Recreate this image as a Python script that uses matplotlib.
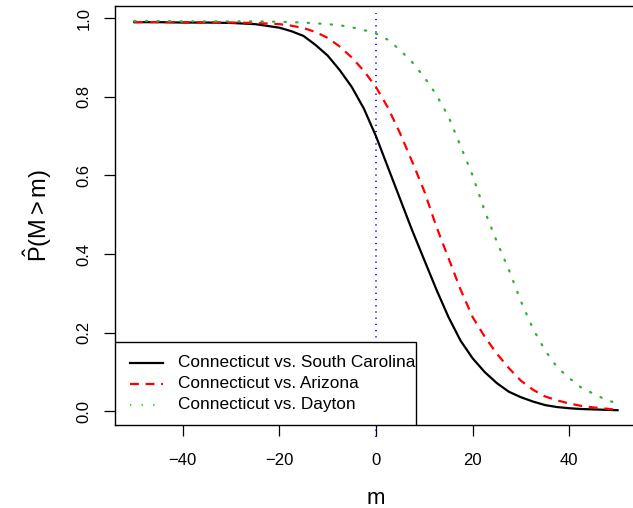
import matplotlib
matplotlib.use("Agg")
import matplotlib.pyplot as plt
from matplotlib.patches import Rectangle

plt.rcParams['font.family'] = ['Liberation Sans', 'DejaVu Sans']
plt.rcParams['mathtext.fontset'] = 'custom'
plt.rcParams['mathtext.rm'] = 'Liberation Sans'
plt.rcParams['mathtext.it'] = 'Liberation Sans'

# margin m and estimated P(M > m) for each matchup
m_vals = [-50, -45, -40, -35, -30, -25, -20, -17.5, -15, -12.5, -10, -7.5, -5, -2.5, 0,
          2.5, 5, 7.5, 10, 12.5, 15, 17.5, 20, 22.5, 25, 27.5, 30, 32.5, 35, 37.5, 40,
          42.5, 45, 47.5, 50]
p_south_carolina = [0.990, 0.990, 0.989, 0.989, 0.988, 0.985, 0.976, 0.967, 0.955, 0.932,
                    0.905, 0.868, 0.825, 0.770, 0.700, 0.620, 0.540, 0.460, 0.385, 0.310,
                    0.240, 0.180, 0.135, 0.100, 0.072, 0.050, 0.036, 0.025, 0.016, 0.011,
                    0.008, 0.006, 0.005, 0.004, 0.003]
p_arizona = [0.990, 0.990, 0.990, 0.989, 0.989, 0.988, 0.985, 0.981, 0.975, 0.965,
             0.950, 0.928, 0.900, 0.866, 0.825, 0.772, 0.707, 0.635, 0.560, 0.470,
             0.390, 0.310, 0.240, 0.190, 0.147, 0.110, 0.078, 0.055, 0.038, 0.028,
             0.020, 0.014, 0.010, 0.007, 0.004]
p_dayton = [0.993, 0.993, 0.992, 0.992, 0.992, 0.992, 0.991, 0.990, 0.989, 0.987,
            0.985, 0.982, 0.977, 0.970, 0.961, 0.945, 0.919, 0.888, 0.850, 0.805,
            0.750, 0.675, 0.600, 0.510, 0.432, 0.360, 0.280, 0.210, 0.155, 0.112,
            0.085, 0.060, 0.045, 0.030, 0.020]

labels = ["Connecticut vs. South Carolina", "Connecticut vs. Arizona", "Connecticut vs. Dayton"]

fig = plt.figure(figsize=(6.33, 5.08), dpi=100)
ax = fig.add_axes([0.1817, 0.1634, 0.8245, 0.8244])

ax.plot(m_vals, p_south_carolina, color='black', lw=1.6)
ax.plot(m_vals, p_arizona, color='#ff0000', lw=1.6, dashes=(4, 3))
ax.plot(m_vals, p_dayton, color='#2fb02f', lw=1.6, dashes=(0.6, 4.6), dash_capstyle='round')
ax.plot([0, 0], [-0.065, 1.013], color='#1a1aff', lw=1.4, dashes=(0.6, 2.6), clip_on=False, zorder=1)

ax.set_xlim(-54, 54)
ax.set_ylim(-0.0346, 1.0306)
ax.set_xticks([-40, -20, 0, 20, 40])
ax.set_xticklabels(["\u221240", "\u221220", "0", "20", "40"])
ax.set_yticks([0.0, 0.2, 0.4, 0.6, 0.8, 1.0])
ax.set_yticklabels(["0.0", "0.2", "0.4", "0.6", "0.8", "1.0"], rotation=90, va='center')
ax.tick_params(labelsize=12, length=8, width=0.9)
ax.tick_params(axis='x', pad=12)
ax.tick_params(axis='y', pad=9)
for s in ax.spines.values():
    s.set_linewidth(1.0)

ax.set_xlabel("m", fontsize=16, labelpad=14.5)
ax.set_ylabel(r"$\hat{\mathrm{P}}(\mathrm{M} > \mathrm{m})$", fontsize=17, labelpad=16)

# legend box drawn by hand, like R's legend() with bottomleft placement
ax_w = 0.8245 * 633
ax_h = 0.8244 * 508
def fx(px):
    return (px - 115) / ax_w
def fy(py):
    return (425 - py) / ax_h

ax.add_patch(Rectangle((0, 0), fx(416), fy(342), transform=ax.transAxes,
                       facecolor='white', edgecolor='black', lw=1.0, zorder=5))
styles = [dict(color='black'),
          dict(color='#ff0000', dashes=(4, 3)),
          dict(color='#22ee22', dashes=(0.6, 4.6))]
row_y = [363, 384, 405]
for lab, st, py in zip(labels, styles, row_y):
    ax.plot([fx(130), fx(163)], [fy(py), fy(py)], transform=ax.transAxes, lw=1.6,
            zorder=6, clip_on=False, **st)
    ax.text(fx(178), fy(py), lab, transform=ax.transAxes, fontsize=12.4,
            va='center', ha='left', zorder=6)

fig.savefig("out.png", dpi=100)
